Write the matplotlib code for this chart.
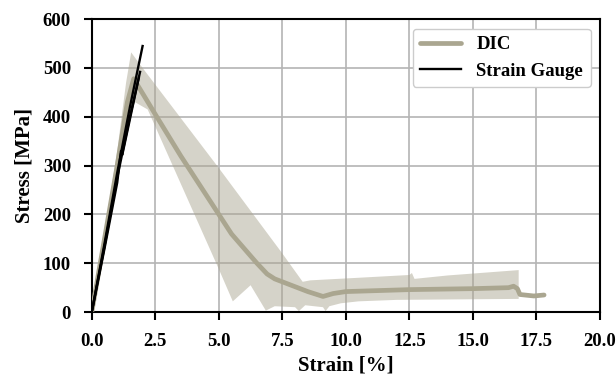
import numpy as np
import matplotlib
matplotlib.use('Agg')
import matplotlib.pyplot as plt

plt.rcParams['font.family'] = ['Liberation Serif', 'DejaVu Serif']
plt.rcParams['font.weight'] = 'bold'

# DIC mean curve
dic_strain = [0.0, 0.5, 1.0, 1.4, 1.65, 2.5, 3.5, 5.0, 5.5, 6.0, 6.5, 6.9, 7.2, 7.7,
              8.5, 9.1, 9.3, 9.5, 10.0, 12.5, 15.0, 16.4, 16.6, 16.75, 16.85, 17.4, 17.8]
dic_stress = [0, 150, 300, 430, 478, 405, 320, 200, 160, 130, 100, 78, 68, 58,
              42, 32, 35, 38, 42, 46, 48, 50, 53, 48, 36, 33, 35]

# DIC scatter band (upper and lower edges)
band_up_strain = [0.0, 0.5, 1.0, 1.35, 1.55, 2.0, 5.0, 7.5, 8.3, 8.6,
                  10.4, 12.5, 12.6, 12.7, 14.0, 16.8]
band_up_stress = [0, 160, 330, 470, 532, 500, 295, 120, 62, 65,
                  70, 76, 80, 68, 75, 86]
band_lo_strain = [0.0, 0.5, 1.0, 1.5, 1.7, 2.2, 5.0, 5.55, 6.25, 6.85, 7.2, 8.0, 8.15,
                  8.4, 9.1, 9.2, 9.35, 9.8, 10.5, 12.0, 16.8]
band_lo_stress = [0, 120, 270, 400, 430, 415, 88, 22, 55, 3, 12, 10, 2,
                  14, 10, 2, 12, 18, 22, 25, 27]

# Strain gauge curves
sg_strain = [
    [0.0, 0.5, 1.0, 1.5, 2.0],
    [0.0, 0.5, 1.0, 1.5, 1.9],
    [0.0, 0.5, 1.0, 1.15, 1.2, 1.5, 1.85],
]
sg_stress = [
    [0, 140, 285, 420, 545],
    [0, 135, 275, 400, 492],
    [0, 130, 265, 330, 322, 395, 480],
]

xticks = [0.0, 2.5, 5.0, 7.5, 10.0, 12.5, 15.0, 17.5, 20.0]
yticks = [0, 100, 200, 300, 400, 500, 600]

fig = plt.figure(figsize=(6.16, 3.76), dpi=100)
ax = fig.add_axes([0.149, 0.170, 0.825, 0.779])

dic_color = '#aaa690'
band_x = np.r_[band_up_strain, band_lo_strain[::-1]]
band_y = np.r_[band_up_stress, band_lo_stress[::-1]]
ax.fill(band_x, band_y, color='#a9a48e', alpha=0.48, lw=0, zorder=2)
ax.plot(dic_strain, dic_stress, color=dic_color, lw=3.4, label='DIC', zorder=3,
        solid_capstyle='round')

for i, (sx, sy) in enumerate(zip(sg_strain, sg_stress)):
    ax.plot(sx, sy, color='black', lw=1.7, zorder=4,
            label='Strain Gauge' if i == 0 else None)

ax.set_xlim(0, 20)
ax.set_ylim(0, 600)
ax.set_xticks(xticks)
ax.set_yticks(yticks)
ax.set_xticklabels([f'{t:.1f}' for t in xticks])
ax.tick_params(labelsize=13.5, width=1.5, length=6, direction='out')
ax.tick_params(axis='x', pad=9)
ax.tick_params(axis='y', pad=9)
ax.grid(True, color='#b4b4b4', lw=1.2)
ax.set_axisbelow(True)
for s in ax.spines.values():
    s.set_linewidth(1.5)
    s.set_color('black')

ax.set_xlabel('Strain [%]', fontsize=15, fontweight='bold', labelpad=4)
ax.set_ylabel('Stress [MPa]', fontsize=15, fontweight='bold', labelpad=6)

leg = ax.legend(loc='upper right', fontsize=13.5, frameon=True, framealpha=1,
                edgecolor='#cccccc', fancybox=True, borderaxespad=0.5,
                handlelength=2.2)
leg.get_frame().set_linewidth(1.0)

fig.savefig('out.png', dpi=100)
